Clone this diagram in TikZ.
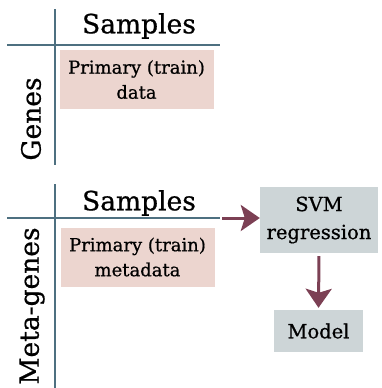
\documentclass[tikz,border=0pt]{standalone}
\usepackage{fontspec}
\setmainfont{DejaVu Serif}[FakeBold=0.7]
\usetikzlibrary{arrows.meta}

\definecolor{axisblue}{RGB}{78,112,128}
\definecolor{pinkbg}{RGB}{236,213,207}
\definecolor{greybg}{RGB}{205,213,215}
\definecolor{arrowred}{RGB}{124,64,84}

\begin{document}
\begin{tikzpicture}[x=1pt,y=-1pt,
  axisline/.style={draw=axisblue, line width=2pt},
  axislabel/.style={font=\fontsize{26.5}{30}\selectfont, inner sep=0pt},
  databox/.style={fill=pinkbg, minimum width=154pt, minimum height=59pt, inner sep=0pt,
    align=center, font=\fontsize{18}{25}\selectfont},
  procbox/.style={fill=greybg, inner sep=0pt, align=center,
    font=\fontsize{19.5}{28}\selectfont},
  flow/.style={draw=arrowred, line width=3pt, -{Stealth[length=19pt,width=26pt,inset=4pt]}}]
  \useasboundingbox (0,0) rectangle (382,388);

  % training data, genes x samples
  \coordinate (gtop) at (55,9);
  \coordinate (gbot) at (55,165);
  \coordinate (gleft) at (7,44.5);
  \coordinate (gright) at (220,44.5);
  \draw[axisline] (gtop) -- (gbot);
  \draw[axisline] (gleft) -- (gright);
  \node[axislabel] (gsamples) at (139,26) {Samples};
  \node[axislabel, rotate=90] (genes) at (31,119) {Genes};
  \node[databox] (traindata) at (136.5,79.5) {Primary (train)\\data};

  % training metadata, meta-genes x samples
  \coordinate (mtop) at (55,184);
  \coordinate (mbot) at (55,388);
  \coordinate (mleft) at (7,218);
  \coordinate (mright) at (220,218);
  \draw[axisline] (mtop) -- (mbot);
  \draw[axisline] (mleft) -- (mright);
  \node[axislabel] (msamples) at (139,203) {Samples};
  \node[axislabel, rotate=90] (metagenes) at (32,306) {Meta-genes};
  \node[databox] (trainmeta) at (137.5,257) {Primary (train)\\metadata};

  % regression
  \node[procbox, minimum width=118pt, minimum height=66pt] (svm) at (319,220) {SVM\\regression};
  \node[procbox, minimum width=89pt, minimum height=42pt] (model) at (318.5,331) {Model};

  \coordinate (flowstart) at (222,218);
  \draw[flow] (flowstart) -- (flowstart -| svm.west);
  \draw[flow, shorten <=3pt, shorten >=2pt] (svm.south) -- (model.north);
\end{tikzpicture}
\end{document}
